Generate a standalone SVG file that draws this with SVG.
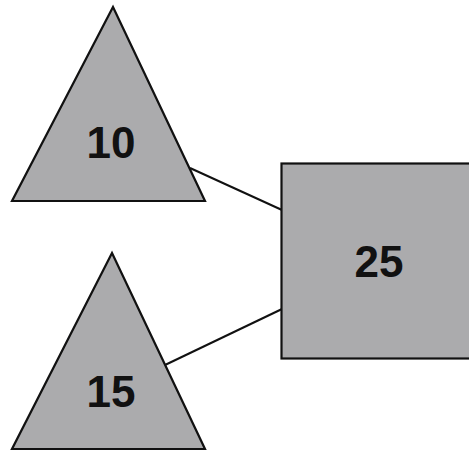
<svg xmlns="http://www.w3.org/2000/svg" width="469" height="452" viewBox="0 0 469 452">
<style>
.shape{fill:#ababad;stroke:#111;stroke-width:2.2;stroke-linejoin:miter}
.lbl{font-family:"Liberation Sans",Arial,sans-serif;font-weight:bold;font-size:44px;fill:#111;text-anchor:middle}
.conn{stroke:#111;stroke-width:2;fill:none}
</style>
<rect width="469" height="452" fill="#fff"/>
<g id="connectors">
<line class="conn" x1="190" y1="168" x2="282" y2="210"/>
<line class="conn" x1="165" y1="365" x2="282" y2="309"/>
</g>
<g id="node-10">
<polygon class="shape" points="113,7 205,201 12,201"/>
<text class="lbl" x="111" y="158">10</text>
</g>
<g id="node-15">
<polygon class="shape" points="112,253 205,449 12,449"/>
<text class="lbl" x="111" y="407">15</text>
</g>
<g id="node-25">
<rect class="shape" x="281.5" y="163.5" width="200" height="195"/>
<text class="lbl" x="379" y="277">25</text>
</g>
</svg>
